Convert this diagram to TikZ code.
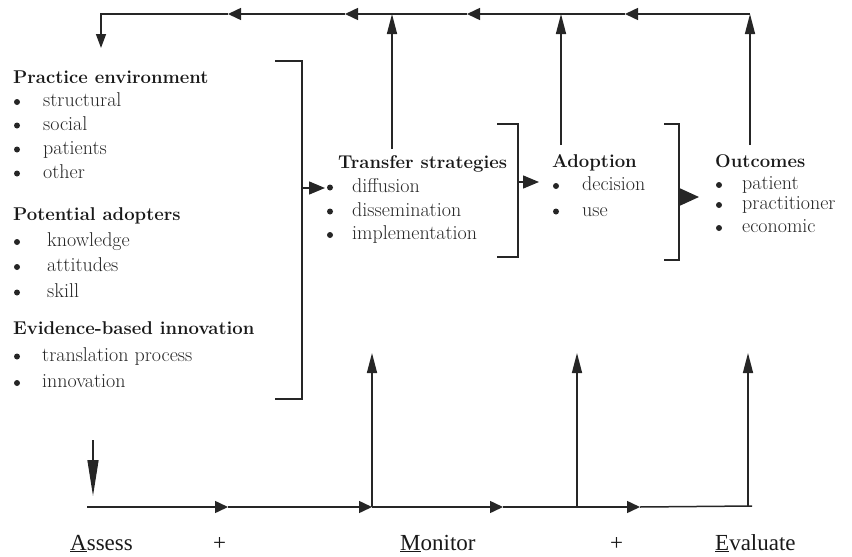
\documentclass[tikz,border=0pt]{standalone}
\usepackage{fontspec}
\newfontfamily\timesf{Liberation Serif}
\usetikzlibrary{arrows.meta}
\begin{document}
\begin{tikzpicture}[x=1pt,y=-1pt,
  ln/.style={draw=black!85, line width=1.5pt},
  tri/.style={ln,-{Triangle[length=13pt,width=12pt]}},
  upa/.style={ln,-{Triangle[length=20pt,width=10pt]}},
  bra/.style={ln,-{Triangle[length=16pt,width=13pt]}},
  dna/.style={ln,-{Triangle[length=36pt,width=11pt]}},
  bul/.style={fill=black!85},
  hd/.style={anchor=base west, inner sep=0pt, text height=12pt, text depth=3pt, font=\fontsize{18.5}{22}\selectfont\bfseries, text=black!90},
  itm/.style={anchor=base west, inner sep=0pt, text height=13pt, text depth=4pt, font=\fontsize{20}{24}\selectfont, text=black!85},
  lab/.style={anchor=base west, inner sep=0pt, font=\timesf\fontsize{23}{26}\selectfont, text=black!90}]
\useasboundingbox (0,0) rectangle (852,557);

% ---------- left block ----------
\node[hd] (pe) at (13,83) {Practice environment};
\node[itm] (pe1) at (43,106.5) {structural};
\node[itm] (pe2) at (43,130) {social};
\node[itm] (pe3) at (43,154) {patients};
\node[itm] (pe4) at (43,178) {other};

\node[hd] (pa) at (13,220) {Potential adopters};
\node[itm] (pa1) at (47,246.5) {knowledge};
\node[itm] (pa2) at (47,271.5) {attitudes};
\node[itm] (pa3) at (47,297) {skill};

\node[hd] (eb) at (13,334) {Evidence-based innovation};
\node[itm] (eb1) at (42,361) {translation process};
\node[itm] (eb2) at (42,387.5) {innovation};

% ---------- transfer strategies ----------
\node[hd] (ts) at (338,168) {Transfer strategies};
\node[itm] (ts1) at (352,192) {diffusion};
\node[itm] (ts2) at (352,216) {dissemination};
\node[itm] (ts3) at (352,239.5) {implementation};

% ---------- adoption ----------
\node[hd] (ad) at (552,167) {Adoption};
\node[itm] (ad1) at (582,190.5) {decision};
\node[itm] (ad2) at (582,216) {use};

% ---------- outcomes ----------
\node[hd] (oc) at (715,167) {Outcomes};
\node[itm] (oc1) at (742,189.5) {patient};
\node[itm] (oc2) at (742,209.5) {practitioner};
\node[itm] (oc3) at (742,232.5) {economic};

% ---------- bullets ----------
\foreach \y in {102,125.5,149.5,173.5,242,267,292.5,356.5,383}
  \fill[bul] (17,\y) circle (3pt);
\foreach \y in {187.5,211.5,235}
  \fill[bul] (330,\y) circle (3pt);
\foreach \y in {186,211.5}
  \fill[bul] (556,\y) circle (3pt);
\foreach \y in {185,205,228}
  \fill[bul] (719,\y) circle (3pt);

% ---------- bottom labels ----------
\node[lab] (as) at (70,550) {\underline{A}ssess};
\node[lab] (p1) at (213,550) {+};
\node[lab] (mo) at (400,550) {\underline{M}onitor};
\node[lab] (p2) at (610,550) {+};
\node[lab] (ev) at (715,550) {\underline{E}valuate};

% ---------- coordinates ----------
\coordinate (tl) at (101,14);
\coordinate (t1) at (392,14);
\coordinate (t2) at (561,14);
\coordinate (tr) at (750,14);
\coordinate (a1) at (228,14);
\coordinate (a2) at (345,14);
\coordinate (a3) at (467,14);
\coordinate (a4) at (625,14);
\coordinate (peIn) at (101,48);
\coordinate (tsUp) at (392,149);
\coordinate (adUp) at (561,145);
\coordinate (ocUp) at (750,145);

% top feedback line
\draw[tri] (tr) -- (a4);
\draw[tri] (a4) -- (a3);
\draw[tri] (a3) -- (a2);
\draw[tri] (a2) -- (a1);
\draw[ln,-{Triangle[length=14pt,width=10pt]}] (a1) -- (tl) -- (peIn);
\draw[upa] (tsUp) -- (t1);
\draw[upa] (adUp) -- (t2);
\draw[upa] (ocUp) -- (tr);

% brackets
\coordinate (b1a) at (275,61);
\coordinate (b1b) at (302,61);
\coordinate (b1c) at (302,399);
\coordinate (b1d) at (275,399);
\coordinate (b1m) at (302,188);
\coordinate (b1t) at (325,188);
\draw[ln] (b1a) -- (b1b) -- (b1c) -- (b1d);
\draw[bra] (b1m) -- (b1t);

\coordinate (b2a) at (497,124);
\coordinate (b2b) at (518,124);
\coordinate (b2c) at (518,257);
\coordinate (b2d) at (497,257);
\coordinate (b2m) at (518,182);
\coordinate (b2t) at (539,182);
\draw[ln] (b2a) -- (b2b) -- (b2c) -- (b2d);
\draw[bra] (b2m) -- (b2t);

\coordinate (b3a) at (664,124);
\coordinate (b3b) at (679,124);
\coordinate (b3c) at (679,260);
\coordinate (b3d) at (664,260);
\coordinate (b3m) at (679,197);
\coordinate (b3t) at (699,197);
\draw[ln] (b3a) -- (b3b) -- (b3c) -- (b3d);
\draw[ln,-{Triangle[length=19pt,width=17pt]}] (b3m) -- (b3t);

% bottom line
\coordinate (bl) at (87,507);
\coordinate (c1) at (228,507);
\coordinate (bj1) at (372,507);
\coordinate (c3) at (503,507);
\coordinate (bj2) at (577,507);
\coordinate (c4) at (640,507);
\coordinate (br) at (752,506);
\coordinate (bj3) at (748,506);
\coordinate (u1) at (372,353);
\coordinate (u2) at (577,353);
\coordinate (u3) at (748,353);
\coordinate (dTop) at (93,440);
\coordinate (dTip) at (93,496);

\draw[tri] (bl) -- (c1);
\draw[tri] (c1) -- (bj1);
\draw[tri] (bj1) -- (c3);
\draw[tri] (c3) -- (c4);
\draw[ln] (c4) -- (br);
\draw[upa] (bj1) -- (u1);
\draw[upa] (bj2) -- (u2);
\draw[upa] (bj3) -- (u3);
\draw[dna] (dTop) -- (dTip);
\end{tikzpicture}
\end{document}
